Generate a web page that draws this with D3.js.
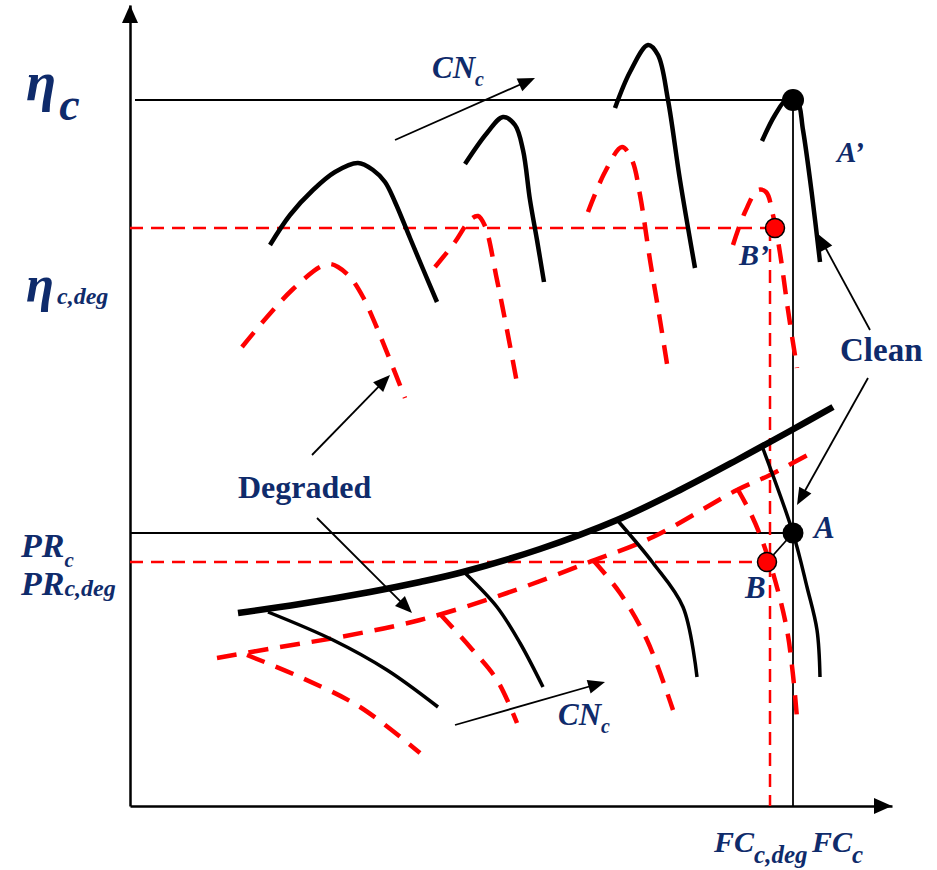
<!DOCTYPE html>
<html><head><meta charset="utf-8">
<script src="https://cdn.jsdelivr.net/npm/d3@7"></script>
<style>html,body{margin:0;padding:0;background:#fff;} svg{display:block;}</style>
</head><body>
<svg id="chart" width="937" height="870"></svg>
<script>
// ---------------- DATA (schematic units: corrected flow FC, efficiency / pressure ratio) ----------------
const etaClean = 706, etaDeg = 578, prClean = 273, prDeg = 244;
const fcClean = 663, fcDeg = 640;

const pointAprime = [663, 706];
const pointBprime = [645, 578];
const pointA = [663, 273];
const pointB = [637, 244];

const cleanEffCurves = [
  [[140,561],[160,591],[183,616],[205,634],[228,643],[243,636],[255,624],[265,604],[280,568],[293,537],[307,504]],
  [[335,642],[357,673],[373,689],[385,681],[393,656],[400,606],[407,566],[414,524]],
  [[485,698],[500,734],[518,761],[528,751],[538,706],[550,626],[565,538]],
  [[632,665],[645,691],[658,708],[667,706],[673,676],[682,611],[690,544]]
];
const degEffCurves = [
  [[112,459],[137,489],[162,516],[190,539],[200,542],[208,539],[220,529],[233,509],[247,478],[260,446],[275,408]],
  [[305,539],[325,564],[340,586],[348,590],[355,580],[367,526],[377,476],[387,423]],
  [[458,594],[475,634],[492,659],[502,646],[510,611],[520,546],[530,486],[538,436]],
  [[603,561],[615,594],[628,616],[636,614],[643,591],[650,553],[658,496],[667,438]]
];
const cleanSurge = [[108,193],[170,202],[240,214],[290,224],[333,234],[410,257],[487,286],[550,316],[607,346],[660,375],[703,399]];
const cleanSpeedLines = [
  [[138,194],[203,166],[257,136],[308,99]],
  [[335,233],[367,199],[390,163],[413,119]],
  [[488,285],[523,243],[553,199],[567,129]],
  [[632,360],[663,273],[677,219],[687,176],[690,129]]
];
const degSurge = [[87,148],[150,159],[210,169],[290,186],[377,213],[457,243],[523,269],[607,316],[640,331],[683,354]];
const degSpeedLines = [
  [[117,151],[170,129],[230,99],[290,53]],
  [[310,192],[340,159],[367,126],[387,83]],
  [[463,246],[490,213],[517,166],[543,96]],
  [[607,318],[620,294],[632,266],[645,226],[657,176],[663,131],[667,88]]
];
// annotation arrows [from, to]
const annotationArrows = [
  [[265,666],[405,728]],
  [[325,81],[475,124]],
  [[182,351],[260,431]],
  [[187,288],[282,193]],
  [[740,476],[688,572]],
  [[738,428],[667,301]]
];
const yTickLabels = [
  {main:"η", sub:"c"}, {main:"η", sub:"c,deg"}, {main:"PR", sub:"c"}, {main:"PR", sub:"c,deg"}
];
const xTickLabels = [{main:"FC", sub:"c,deg"}, {main:"FC", sub:"c"}];

// ---------------- DRAW ----------------
const svg = d3.select("#chart");
const x = d3.scaleLinear().domain([0, 762]).range([130, 892]);
const y = d3.scaleLinear().domain([0, 801]).range([806, 5]);
const NAVY = "#0f2b6b", RED = "#ff0000";
const FONT = "'Liberation Serif','Times New Roman',serif";

const line = d3.line().x(d => x(d[0])).y(d => y(d[1])).curve(d3.curveCatmullRom.alpha(0.5));
const straight = d3.line().x(d => x(d[0])).y(d => y(d[1]));

// axes
svg.append("g").attr("transform", `translate(0,${y(0)})`)
  .call(d3.axisBottom(x).tickValues([]).tickSizeOuter(0));
svg.append("g").attr("transform", `translate(${x(0)},0)`)
  .call(d3.axisLeft(y).tickValues([]).tickSizeOuter(0));
svg.selectAll(".domain").attr("stroke", "#000").attr("stroke-width", 2.5);
function arrowHead(tx, ty, ang, len, half, g) {
  const bx = tx - len * Math.cos(ang), by = ty - len * Math.sin(ang);
  const px = -Math.sin(ang) * half, py = Math.cos(ang) * half;
  g.append("path").attr("d", `M${tx},${ty}L${bx + px},${by + py}L${bx - px},${by - py}Z`).attr("fill", "#000");
}
arrowHead(x(762), y(0), 0, 18, 8, svg);
arrowHead(x(0), y(801), -Math.PI / 2, 18, 8, svg);

// reference lines
const ref = svg.append("g").attr("fill", "none");
ref.append("path").attr("d", straight([[5, etaClean], [fcClean, etaClean]])).attr("stroke", "#000").attr("stroke-width", 1.8);
ref.append("path").attr("d", straight([[0, prClean], [fcClean, prClean]])).attr("stroke", "#000").attr("stroke-width", 1.8);
ref.append("path").attr("d", straight([[fcClean, etaClean], [fcClean, 0]])).attr("stroke", "#000").attr("stroke-width", 1.8);
ref.append("path").attr("d", straight([[0, etaDeg], [pointBprime[0], etaDeg]])).attr("stroke", RED).attr("stroke-width", 2.5).attr("stroke-dasharray", "13,8");
ref.append("path").attr("d", straight([[0, prDeg], [pointB[0], prDeg]])).attr("stroke", RED).attr("stroke-width", 2.5).attr("stroke-dasharray", "13,8");
ref.append("path").attr("d", straight([[fcDeg, etaDeg], [fcDeg, 0]])).attr("stroke", RED).attr("stroke-width", 2.5).attr("stroke-dasharray", "13,8");
ref.append("path").attr("d", straight([pointA, pointB])).attr("stroke", "#000").attr("stroke-width", 1.8);

// curves
const curves = svg.append("g").attr("fill", "none");
degEffCurves.forEach(c => curves.append("path").attr("d", line(c)).attr("stroke", RED).attr("stroke-width", 4.5).attr("stroke-dasharray", "19,12"));
degSpeedLines.forEach(c => curves.append("path").attr("d", line(c)).attr("stroke", RED).attr("stroke-width", 4.5).attr("stroke-dasharray", "19,12"));
curves.append("path").attr("d", line(degSurge)).attr("stroke", RED).attr("stroke-width", 4.5).attr("stroke-dasharray", "20,12");
cleanEffCurves.forEach(c => curves.append("path").attr("d", line(c)).attr("stroke", "#000").attr("stroke-width", 4.5));
cleanSpeedLines.forEach(c => curves.append("path").attr("d", line(c)).attr("stroke", "#000").attr("stroke-width", 3.5));
curves.append("path").attr("d", line(cleanSurge)).attr("stroke", "#000").attr("stroke-width", 6.5);

// annotation arrows
const ann = svg.append("g");
annotationArrows.forEach(([a, b]) => {
  const x1 = x(a[0]), y1 = y(a[1]), x2 = x(b[0]), y2 = y(b[1]);
  const ang = Math.atan2(y2 - y1, x2 - x1);
  ann.append("line").attr("x1", x1).attr("y1", y1).attr("x2", x2 - 10 * Math.cos(ang)).attr("y2", y2 - 10 * Math.sin(ang))
    .attr("stroke", "#000").attr("stroke-width", 1.8);
  arrowHead(x2, y2, ang, 17, 7, ann);
});

// points
svg.append("circle").attr("cx", x(pointAprime[0])).attr("cy", y(pointAprime[1])).attr("r", 11).attr("fill", "#000");
svg.append("circle").attr("cx", x(pointA[0])).attr("cy", y(pointA[1])).attr("r", 10.5).attr("fill", "#000");
svg.append("circle").attr("cx", x(pointBprime[0])).attr("cy", y(pointBprime[1])).attr("r", 9.5).attr("fill", RED).attr("stroke", "#000").attr("stroke-width", 1.5);
svg.append("circle").attr("cx", x(pointB[0])).attr("cy", y(pointB[1])).attr("r", 9.5).attr("fill", RED).attr("stroke", "#000").attr("stroke-width", 1.5);

// text helpers
function subText(px, py, main, sub, mainSize, subSize, subDy, opts = {}) {
  const t = svg.append("text").attr("x", px).attr("y", py).attr("font-family", FONT)
    .attr("font-weight", "bold").attr("font-style", "italic").attr("fill", NAVY);
  t.append("tspan").attr("font-size", mainSize).text(main);
  t.append("tspan").attr("font-size", subSize).attr("dy", subDy).attr("dx", opts.dx || 0).text(sub);
  return t;
}
// y axis labels
subText(26, 100, yTickLabels[0].main, yTickLabels[0].sub, 55, 46, 20, {dx: 3});
subText(26, 301, yTickLabels[1].main, yTickLabels[1].sub, 51, 24, 3, {dx: 3});
subText(21, 557, yTickLabels[2].main, yTickLabels[2].sub, 34, 21, 10);
subText(21, 595, yTickLabels[3].main, yTickLabels[3].sub, 34, 24, 1);
// x axis labels
subText(714, 852, xTickLabels[0].main, xTickLabels[0].sub, 30, 25, 11);
subText(812, 852, xTickLabels[1].main, xTickLabels[1].sub, 30, 25, 11);

// annotation texts
subText(x(302), y(728), "CN", "c", 31, 20, 8);
subText(x(428), y(81), "CN", "c", 31, 20, 8);
function plain(d, txt, size, italic) {
  svg.append("text").attr("x", x(d[0])).attr("y", y(d[1])).attr("font-family", FONT).attr("font-weight", "bold")
    .attr("font-style", italic ? "italic" : "normal").attr("font-size", size).attr("fill", NAVY).text(txt);
}
plain([108, 308], "Degraded", 32, false);
plain([710, 445], "Clean", 33, false);
plain([707, 644], "A’", 29, true);
plain([609, 541], "B’", 30, true);
plain([684, 268], "A", 31, true);
plain([615, 208], "B", 31, true);
</script>
</body></html>
